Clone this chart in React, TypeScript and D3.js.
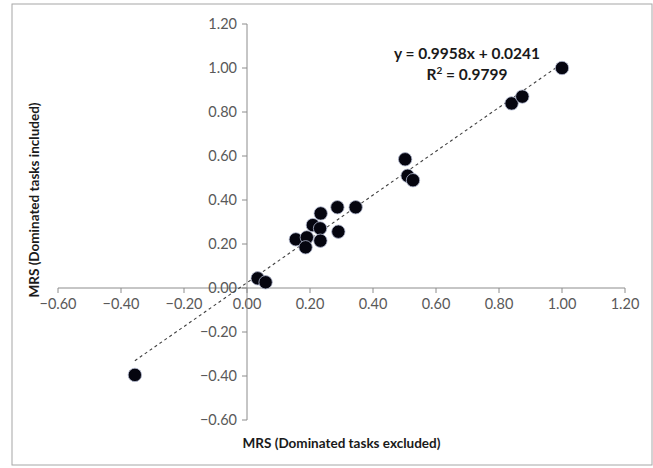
import React from "react";
import * as d3 from "d3";

const xValues = [-0.356, 0.034, 0.059, 0.155, 0.19, 0.186, 0.209, 0.232, 0.234, 0.233, 0.287, 0.29, 0.345, 0.502, 0.51, 0.527, 0.84, 0.874, 1.0];
const yValues = [-0.395, 0.044, 0.026, 0.221, 0.23, 0.185, 0.286, 0.271, 0.339, 0.215, 0.367, 0.256, 0.367, 0.585, 0.51, 0.49, 0.839, 0.87, 1.0];
const xTicks = [-0.6, -0.4, -0.2, 0, 0.2, 0.4, 0.6, 0.8, 1.0, 1.2];
const yTicks = [-0.6, -0.4, -0.2, 0, 0.2, 0.4, 0.6, 0.8, 1.0, 1.2];
const slope = 0.9958;
const intercept = 0.0241;
const equationText = "y = 0.9958x + 0.0241";
const r2Value = "0.9799";
const xTitle = "MRS (Dominated tasks excluded)";
const yTitle = "MRS (Dominated tasks included)";

export default function App() {
  const W = 653, H = 468;
  const x = d3.scaleLinear().domain([-0.6, 1.2]).range([58, 625]);
  const y = d3.scaleLinear().domain([-0.6, 1.2]).range([420, 24]);
  const font = "Lato, 'Open Sans', sans-serif";
  const axisColor = "#8c8c8c";
  const labelColor = "#595959";
  const xMin = d3.min(xValues) as number;
  const xMax = d3.max(xValues) as number;
  const line = d3.line<number>().x((d) => x(d)).y((d) => y(slope * d + intercept));
  const data = xValues.map((v, i) => ({ x: v, y: yValues[i] }));
  const fmt = d3.format(".2f");
  return (
    <svg width={W} height={H} style={{ position: "absolute", left: 0, top: 0, background: "#fff" }} fontFamily={font}>
      <rect x={12} y={4} width={640} height={461} fill="#fff" stroke="#a6a6a6" strokeWidth={1} />
      {/* x axis */}
      <line x1={x(-0.6)} x2={x(1.2)} y1={y(0)} y2={y(0)} stroke={axisColor} strokeWidth={1} />
      {xTicks.map((t) => (
        <g key={"xt" + t}>
          <line x1={x(t)} x2={x(t)} y1={y(0)} y2={y(0) + 5} stroke={axisColor} />
          <text x={x(t)} y={y(0) + 21} textAnchor="middle" fontSize={14.5} fill={labelColor}>{fmt(t)}</text>
        </g>
      ))}
      {/* y axis */}
      <line x1={x(0)} x2={x(0)} y1={y(-0.6)} y2={y(1.2)} stroke={axisColor} strokeWidth={1} />
      {yTicks.map((t) => (
        <g key={"yt" + t}>
          <line x1={x(0) - 5} x2={x(0)} y1={y(t)} y2={y(t)} stroke={axisColor} />
          <text x={x(0) - 10} y={y(t) + 5} textAnchor="end" fontSize={14.5} fill={labelColor}>{fmt(t)}</text>
        </g>
      ))}
      {/* trendline */}
      <path d={line([xMin, xMax]) || ""} fill="none" stroke="#404040" strokeWidth={1.1} strokeDasharray="3,3" />
      {/* points */}
      {data.map((d, i) => (
        <circle key={i} cx={x(d.x)} cy={y(d.y)} r={6.7} fill="#05050f" stroke="#b4bad2" strokeWidth={0.8} />
      ))}
      {/* equation */}
      <text x={467} y={59} textAnchor="middle" fontSize={15.5} fontWeight="bold" fill="#1a1a1a">{equationText}</text>
      <text x={467} y={80} textAnchor="middle" fontSize={15.5} fontWeight="bold" fill="#1a1a1a">
        R<tspan dy={-6} fontSize={10}>2</tspan><tspan dy={6}>{" = " + r2Value}</tspan>
      </text>
      {/* titles */}
      <text x={(x(-0.6) + x(1.2)) / 2} y={448} textAnchor="middle" fontSize={13.5} fontWeight="bold" fill="#1a1a1a">{xTitle}</text>
      <text transform={`translate(39, 200) rotate(-90)`} textAnchor="middle" fontSize={13.5} fontWeight="bold" fill="#1a1a1a">{yTitle}</text>
    </svg>
  );
}
